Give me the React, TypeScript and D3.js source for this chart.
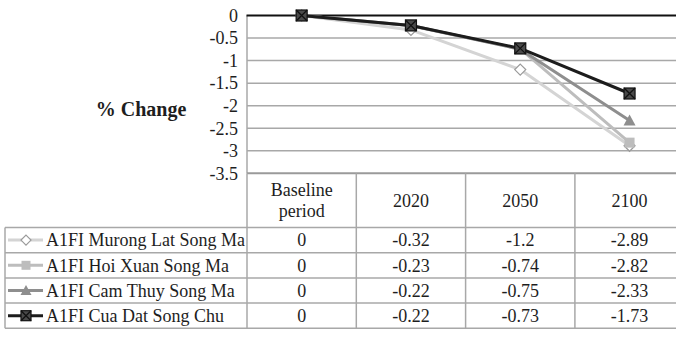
import React from "react";
import * as d3 from "d3";

// Chart data
const categories = ["Baseline period", "2020", "2050", "2100"];
const seriesNames = [
  "A1FI Murong Lat Song Ma",
  "A1FI Hoi Xuan Song Ma",
  "A1FI Cam Thuy Song Ma",
  "A1FI Cua Dat Song Chu",
];
const murongLat = [0, -0.32, -1.2, -2.89];
const hoiXuan = [0, -0.23, -0.74, -2.82];
const camThuy = [0, -0.22, -0.75, -2.33];
const cuaDat = [0, -0.22, -0.73, -1.73];
const yTicks = [0, -0.5, -1, -1.5, -2, -2.5, -3, -3.5];
const yTitle = "% Change";

const W = 676;
const H = 338;
const FONT = '"Liberation Serif", "Times New Roman", Times, "DejaVu Serif", serif';

type Style = {
  line: string;
  marker: "diamond" | "square" | "triangle" | "xsquare";
  fill: string;
  stroke: string;
  size: number;
};

const styles: Style[] = [
  { line: "#d4d4d4", marker: "diamond", fill: "#ffffff", stroke: "#9a9a9a", size: 9 },
  { line: "#bdbdbd", marker: "square", fill: "#bdbdbd", stroke: "#bdbdbd", size: 10 },
  { line: "#8e8e8e", marker: "triangle", fill: "#8e8e8e", stroke: "#8e8e8e", size: 10 },
  { line: "#1c1c1c", marker: "xsquare", fill: "#4a4a4a", stroke: "#111111", size: 11 },
];

const seriesValues = [murongLat, hoiXuan, camThuy, cuaDat];

const txt: React.CSSProperties = { fontFamily: FONT };

function Marker({ kind, x, y, s }: { kind: Style; x: number; y: number; s: number }) {
  const h = s / 2;
  if (kind.marker === "diamond") {
    const p = `M${x},${y - h - 1} L${x + h + 1},${y} L${x},${y + h + 1} L${x - h - 1},${y} Z`;
    return <path d={p} fill={kind.fill} stroke={kind.stroke} strokeWidth={1.2} />;
  }
  if (kind.marker === "square") {
    return <rect x={x - h} y={y - h} width={s} height={s} fill={kind.fill} />;
  }
  if (kind.marker === "triangle") {
    const p = `M${x},${y - h - 1} L${x + h + 1},${y + h} L${x - h - 1},${y + h} Z`;
    return <path d={p} fill={kind.fill} />;
  }
  return (
    <g>
      <rect x={x - h} y={y - h} width={s} height={s} fill={kind.fill} stroke={kind.stroke} strokeWidth={1.2} />
      <path
        d={`M${x - h},${y - h} L${x + h},${y + h} M${x + h},${y - h} L${x - h},${y + h}`}
        stroke={kind.stroke}
        strokeWidth={1.3}
      />
    </g>
  );
}

export default function App() {
  const plotLeft = 247;
  const colW = 109.3;
  const plotTop = 15.5;
  const plotBottom = 173.3;
  const tableLeft = 5;
  const headerBottom = 227.5;
  const rowH = 25.2;

  const x = d3
    .scaleBand<string>()
    .domain(categories)
    .range([plotLeft, plotLeft + colW * categories.length])
    .padding(0);
  const y = d3.scaleLinear().domain([-3.5, 0]).range([plotBottom, plotTop]);
  const cx = (c: string) => (x(c) as number) + x.bandwidth() / 2;

  const lineGen = d3
    .line<number>()
    .x((_, i) => cx(categories[i]))
    .y((d) => y(d));

  const right = plotLeft + colW * categories.length;
  const grid = "#a8a8a8";
  const tableBottom = headerBottom + rowH * seriesNames.length;
  const ink = "#1e1e1e";

  return (
    <svg
      width={W}
      height={H}
      style={{ position: "absolute", left: 0, top: 0, background: "#fff", fontFamily: FONT }}
    >
      {/* horizontal gridlines */}
      {yTicks
        .filter((t) => t !== 0 && t !== -3.5)
        .map((t) => (
          <line key={t} x1={plotLeft} x2={right} y1={y(t)} y2={y(t)} stroke={grid} strokeWidth={1.5} />
        ))}
      {/* value axis */}
      <line x1={plotLeft} x2={plotLeft} y1={y(0)} y2={plotBottom} stroke={grid} strokeWidth={1.5} />
      {/* category axis / table top */}
      <line x1={plotLeft} x2={right} y1={plotBottom} y2={plotBottom} stroke="#9a9a9a" strokeWidth={2} />
      {/* zero line */}
      <line x1={plotLeft - 0.5} x2={right} y1={y(0)} y2={y(0)} stroke="#111" strokeWidth={2} />

      {/* tick labels */}
      {yTicks.map((t) => (
        <text key={t} x={238} y={y(t)} dy="0.35em" textAnchor="end" fontSize={18} fill={ink} style={txt}>
          {t === 0 ? "0" : String(t)}
        </text>
      ))}
      <text
        x={141}
        y={y(-2) + 3.5}
        dy="0.35em"
        textAnchor="middle"
        fontSize={20}
        fontWeight="bold"
        fill={ink}
        style={txt}
      >
        {yTitle}
      </text>

      {/* series */}
      {seriesValues.map((vals, si) => (
        <g key={si}>
          <path d={lineGen(vals) || ""} fill="none" stroke={styles[si].line} strokeWidth={3} strokeLinejoin="round" />
          {vals.map((v, i) => (
            <Marker key={i} kind={styles[si]} x={cx(categories[i])} y={y(v)} s={styles[si].size} />
          ))}
        </g>
      ))}

      {/* data table grid */}
      {categories.map((c, i) => (
        <line
          key={"v" + i}
          x1={x(c) as number}
          x2={x(c) as number}
          y1={plotBottom}
          y2={tableBottom}
          stroke={grid}
          strokeWidth={1.5}
        />
      ))}
      <line x1={tableLeft} x2={tableLeft} y1={headerBottom} y2={tableBottom} stroke={grid} strokeWidth={1.5} />
      {seriesNames.map((_, r) => (
        <line
          key={"h" + r}
          x1={tableLeft}
          x2={right}
          y1={headerBottom + rowH * r}
          y2={headerBottom + rowH * r}
          stroke={grid}
          strokeWidth={1.5}
        />
      ))}
      <line x1={tableLeft} x2={right} y1={tableBottom} y2={tableBottom} stroke={grid} strokeWidth={1.5} />

      {/* header */}
      {categories.map((c) => {
        const parts = c.split(" ");
        const mid = (plotBottom + headerBottom) / 2;
        return (
          <text key={c} x={cx(c)} textAnchor="middle" fontSize={18} fill={ink} style={txt}>
            {parts.map((p, k) => (
              <tspan key={k} x={cx(c)} y={mid + (k - (parts.length - 1) / 2) * 21} dy="0.35em">
                {p}
              </tspan>
            ))}
          </text>
        );
      })}

      {/* rows */}
      {seriesNames.map((name, r) => {
        const ry = headerBottom + rowH * r + rowH / 2;
        const st = styles[r];
        return (
          <g key={name}>
            <line x1={8} x2={43} y1={ry} y2={ry} stroke={st.line} strokeWidth={3} />
            <Marker kind={st} x={26} y={ry} s={st.size - 1} />
            <text x={46} y={ry} dy="0.35em" fontSize={18} fill={ink} style={txt}>
              {name}
            </text>
            {seriesValues[r].map((v, i) => (
              <text
                key={i}
                x={cx(categories[i])}
                y={ry}
                dy="0.35em"
                textAnchor="middle"
                fontSize={18}
                fill={ink}
                style={txt}
              >
                {String(v)}
              </text>
            ))}
          </g>
        );
      })}
    </svg>
  );
}
